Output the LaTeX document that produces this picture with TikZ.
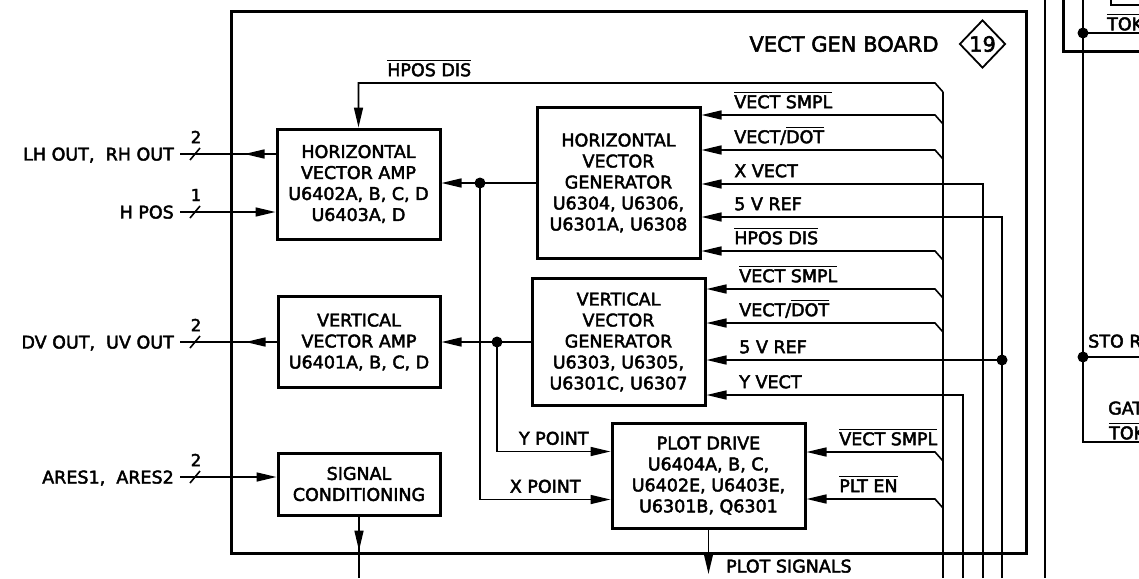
\documentclass[tikz,border=0pt]{standalone}
\usepackage{fontspec}
\setmainfont{DejaVu Sans}[FakeBold=2.5]
\usetikzlibrary{positioning, arrows.meta, shapes.geometric, calc}

\newcommand\ovl[1]{\leavevmode\vbox{\hrule height 1.4pt\kern 2.2pt\hbox{#1}}}
\newcommand\lblsize{\fontsize{17.5}{21}\selectfont}

\begin{document}
\begin{tikzpicture}[x=1pt,y=-1pt,
  sig/.style={line width=1.6pt},
  ina/.style={sig,-{Triangle[length=20pt,width=9pt]}},
  blk/.style={draw,line width=3pt,align=center,font=\lblsize,inner sep=2pt},
  lab/.style={font=\lblsize,inner sep=2pt,text depth=0pt},
  dot/.style={circle,fill,inner sep=0pt,minimum size=11pt},
  frame/.style={line width=3pt}]
  \useasboundingbox (0,0) rectangle (1139,578);
  \clip (0,0) rectangle (1139,578);

  % board and title
  \node[draw,frame,minimum width=795,minimum height=541,inner sep=0pt] (board) at (628.5,282.5) {};
  \node[font=\fontsize{21}{24}\selectfont] (title) at (844,44) {VECT GEN BOARD};
  \node[diamond,draw,line width=1.8pt,minimum width=46,minimum height=48,inner sep=0pt,
        font=\fontsize{21}{24}\selectfont] (zone) at (982.5,44) {19};

  % blocks
  \node[blk,minimum width=163,minimum height=110] (HAmp) at (358.5,184)
    {HORIZONTAL\\VECTOR AMP\\U6402A, B, C, D\\U6403A, D};
  \node[blk,minimum width=163,minimum height=151] (HGen) at (618.5,183)
    {HORIZONTAL\\VECTOR\\GENERATOR\\U6304, U6306,\\U6301A, U6308};
  \node[blk,minimum width=162,minimum height=91] (VAmp) at (359,342)
    {VERTICAL\\VECTOR AMP\\U6401A, B, C, D};
  \node[blk,minimum width=173,minimum height=127] (VGen) at (618.5,342)
    {VERTICAL\\VECTOR\\GENERATOR\\U6303, U6305,\\U6301C, U6307};
  \node[blk,minimum width=193,minimum height=105] (Plot) at (708.5,475.5)
    {PLOT DRIVE\\U6404A, B, C,\\U6402E, U6403E,\\U6301B, Q6301};
  \node[blk,minimum width=162,minimum height=62] (Cond) at (359,484)
    {SIGNAL\\CONDITIONING};

  % outside signals
  \coordinate (lhout) at (180,154);
  \coordinate (hpos) at (180,212);
  \coordinate (dvout) at (180,342);
  \coordinate (ares) at (180,477);
  \draw[sig] (HAmp.west |- lhout) -- (lhout);
  \draw[ina] (HAmp.west |- lhout) -- ++(-31,0);
  \draw[ina] (hpos) -- (HAmp.west |- hpos);
  \draw[sig] (VAmp.west |- dvout) -- (dvout);
  \draw[ina] (VAmp.west |- dvout) -- ++(-31,0);
  \draw[ina] (ares) -- (Cond.west |- ares);
  \foreach \c/\t in {lhout/{LH OUT,\ \ RH OUT}, hpos/{H POS}, dvout/{DV OUT,\ \ UV OUT}, ares/{ARES1,\ \ ARES2}}
    \node[lab,left=4pt of \c] (\c-t) {\t};
  \foreach \c/\n in {lhout/2, hpos/1, dvout/2, ares/2} {
    \draw[sig] ([shift={(10,6)}]\c) -- ([shift={(20,-6)}]\c);
    \node[lab,font=\fontsize{16.5}{18}\selectfont] (\c-n) at ([shift={(16,-17)}]\c) {\n};
  }

  % generators to amps and plot drive
  \draw[ina] (HGen.west) -- (HGen.west -| HAmp.east);
  \node[dot] (xj) at (HGen.west -| 480,0) {};
  \draw[ina] (xj.center) |- ([yshift=-24pt]Plot.west)
    node[lab,pos=0.75,above=4pt] (xpt) {X POINT};
  \draw[ina] (VGen.west) -- (VGen.west -| VAmp.east);
  \node[dot] (yj) at (VGen.west -| 497,0) {};
  \draw[ina] (yj.center) |- ([yshift=24pt]Plot.west)
    node[lab,pos=0.75,above=4pt] (ypt) {Y POINT};

  % control bus
  \coordinate (bustop) at (943,92);
  \coordinate (busbot) at (943,578);
  \draw[sig] (bustop) -- (busbot);
  \draw[ina] (bustop) -- ++(-8,-9) coordinate (t) -- (t -| HAmp.north)
    node[lab,at end,anchor=south west,xshift=26pt,yshift=4pt] (hpd-t) {\ovl{HPOS DIS}}
    -- (HAmp.north);
  \foreach \n/\y in {hs/115, hd/150, hh/251, vs/289, vd/323, ps/452, pe/499}
    \coordinate (\n) at (943,\y+9);
  \foreach \c/\b/\t in {hs/HGen/{\ovl{VECT SMPL}}, hd/HGen/{VECT/\ovl{DOT}},
      hh/HGen/{\ovl{HPOS DIS}}, vs/VGen/{\ovl{VECT SMPL}}, vd/VGen/{VECT/\ovl{DOT}},
      ps/Plot/{\ovl{VECT SMPL}}, pe/Plot/{\ovl{PLT EN}}}
    \draw[ina] (\c) -- ++(-8,-9) coordinate (t) -- (t -| \b.east)
      node[lab,at end,anchor=south west,xshift=30pt,yshift=4pt] (\c-t) {\t};

  % vector and reference lines
  \coordinate (xvtop) at (983,184);
  \coordinate (xvbot) at (983,578);
  \coordinate (rftop) at (1002,217);
  \coordinate (rfbot) at (1002,578);
  \coordinate (yvtop) at (963,395);
  \coordinate (yvbot) at (963,578);
  \draw[ina] (xvbot) -- (xvtop) -- (xvtop -| HGen.east)
    node[lab,at end,anchor=south west,xshift=30pt,yshift=4pt] (xv-t) {X VECT};
  \draw[ina] (rfbot) -- (rftop) -- (rftop -| HGen.east)
    node[lab,at end,anchor=south west,xshift=30pt,yshift=4pt] (rf-t) {5 V REF};
  \node[dot] (rfj) at (1002,360) {};
  \draw[ina] (rfj.center) -- (rfj -| VGen.east)
    node[lab,at end,anchor=south west,xshift=30pt,yshift=4pt] (rfv-t) {5 V REF};
  \draw[ina] (yvbot) -- (yvtop) -- (yvtop -| VGen.east)
    node[lab,at end,anchor=south west,xshift=30pt,yshift=4pt] (yv-t) {Y VECT};

  % outputs at the bottom
  \coordinate (psig) at (Plot.south |- 0,574);
  \draw[ina] (Plot.south) -- (psig);
  \node[lab,anchor=west] (psig-t) at (724,566) {PLOT SIGNALS};
  \coordinate (condbot) at (Cond.south |- 0,578);
  \draw[sig] (Cond.south) -- (condbot);
  \draw[ina] (Cond.south) -- ++(0,34);

  % neighbouring board (clipped)
  \draw[sig] (1045,0) -- (1045,578);
  \draw[frame] (1063,0) -- (1063,52) -- (1139,52);
  \draw[sig] (1111,0) -- (1111,5) -- (1139,5);
  \node[lab,anchor=west] (tok1) at (1105,22) {\ovl{TOK}};
  \draw[sig] (1083,0) -- (1083,442) -- (1139,442);
  \node[dot] (j1) at (1083,33) {};
  \draw[sig] (j1.center) -- (1139,33);
  \node[dot] (j2) at (1083,357) {};
  \draw[sig] (j2.center) -- (1139,357);
  \node[lab,anchor=west] (sto) at (1086,341) {STO R};
  \node[lab,anchor=west] (gat) at (1106,408) {GAT};
  \node[lab,anchor=west] (tok2) at (1107,431) {\ovl{TOK}};
\end{tikzpicture}
\end{document}
